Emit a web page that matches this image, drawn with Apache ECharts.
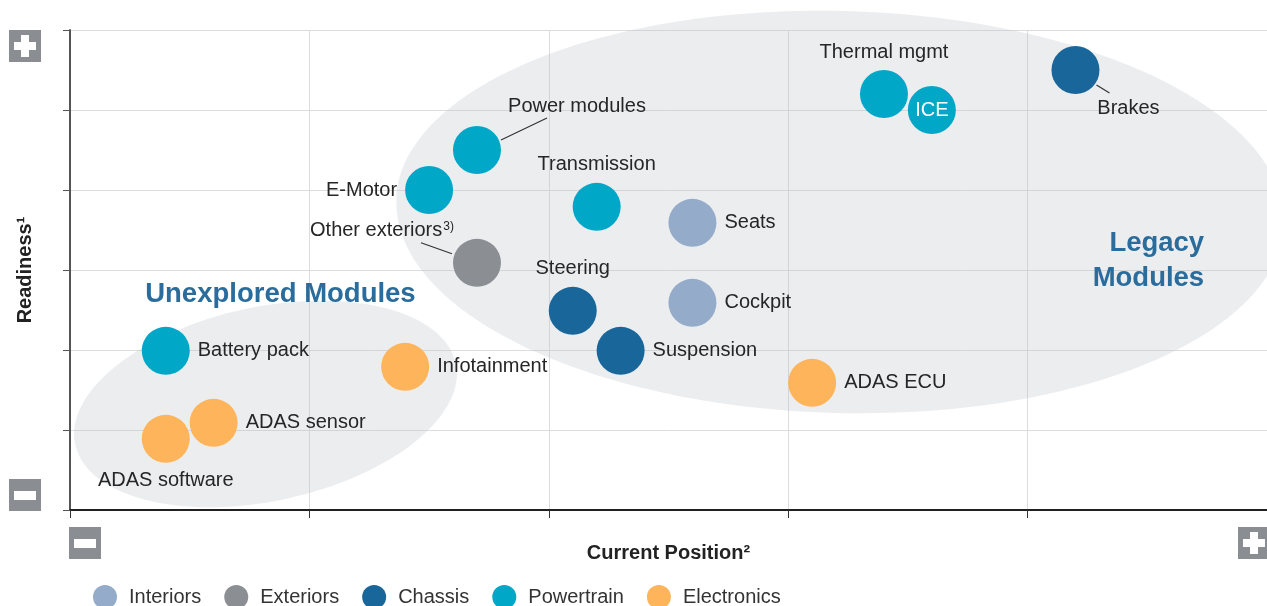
<!DOCTYPE html>
<html>
<head>
<meta charset="utf-8">
<script src="https://cdn.jsdelivr.net/npm/echarts@6/dist/echarts.min.js"></script>
<style>
  html, body { margin: 0; padding: 0; background: #fff; }
  #chart_box { width: 1267px; height: 606px; }
</style>
</head>
<body>
<div id="chart_box"></div>
<script>
// categories (legend order)
var categories = ["Interiors", "Exteriors", "Chassis", "Powertrain", "Electronics"];

// modules per category: name, current position (x), readiness (y)
var interiorsNames = ["Seats", "Cockpit"];
var interiorsX = [2.6, 2.6];
var interiorsY = [3.59, 2.59];

var exteriorsNames = ["Other exteriors"];
var exteriorsX = [1.7];
var exteriorsY = [3.09];

var chassisNames = ["Steering", "Suspension", "Brakes"];
var chassisX = [2.1, 2.3, 4.2];
var chassisY = [2.49, 1.99, 5.5];

var powertrainNames = ["Battery pack", "E-Motor", "Power modules", "Transmission", "Thermal mgmt", "ICE"];
var powertrainX = [0.4, 1.5, 1.7, 2.2, 3.4, 3.6];
var powertrainY = [1.99, 4.0, 4.5, 3.79, 5.2, 5.0];

var electronicsNames = ["ADAS sensor", "ADAS software", "Infotainment", "ADAS ECU"];
var electronicsX = [0.6, 0.4, 1.4, 3.1];
var electronicsY = [1.09, 0.89, 1.79, 1.59];

// shaded zones: centre, radii (in axis units), tilt in degrees
var zoneCenterX = [0.817, 3.217];
var zoneCenterY = [1.325, 3.725];
var zoneRadiusX = [0.8125, 1.854];
var zoneRadiusY = [1.2125, 2.5125];
var zoneTilt = [12, -1.5];

// zone titles
var zoneTitles = ["Unexplored Modules", "Legacy\nModules"];
var zoneTitleX = [0.879, 4.7375];
var zoneTitleY = [2.70, 3.11];

// axis extents
var xMin = 0, xMax = 5, yMin = 0, yMax = 6;

var colors = ["#94abc9", "#8b8f94", "#19679a", "#00a7c6", "#fdb45a"];
var font = "Liberation Sans, Arial, sans-serif";
var textColor = "#262626";

// where each label sits around its bubble
var labelPlacement = {
  "Seats": { position: "right" },
  "Cockpit": { position: "right" },
  "Other exteriors": { position: "inside", offset: [-95, -32], formatter: "{b}{sup|3)}" },
  "Steering": { position: "top" },
  "Suspension": { position: "right" },
  "Brakes": { position: "inside", offset: [53, 38] },
  "Battery pack": { position: "right" },
  "E-Motor": { position: "left" },
  "Power modules": { position: "inside", offset: [100, -44] },
  "Transmission": { position: "top" },
  "Thermal mgmt": { position: "top" },
  "ICE": { position: "inside", color: "#fff" },
  "ADAS sensor": { position: "right" },
  "ADAS software": { position: "bottom" },
  "Infotainment": { position: "right" },
  "ADAS ECU": { position: "right" }
};
// leader lines: pixel offsets from the bubble centre [x1, y1, x2, y2]
var leaderOffsets = {
  "Power modules": [24, -10, 70, -32],
  "Other exteriors": [-25, -9, -56, -20],
  "Brakes": [21, 15, 34, 23]
};

function buildPoints(names, xs, ys) {
  return names.map(function (n, i) {
    var p = labelPlacement[n];
    return {
      name: n,
      value: [xs[i], ys[i]],
      label: {
        show: true,
        position: p.position,
        distance: 8,
        offset: p.offset || [0, 0],
        color: p.color || textColor,
        fontSize: 20,
        fontFamily: font,
        formatter: p.formatter || "{b}",
        rich: { sup: { fontSize: 12, fontFamily: font, color: textColor, padding: [0, 0, 9, 1] } }
      }
    };
  });
}

var groups = [
  buildPoints(interiorsNames, interiorsX, interiorsY),
  buildPoints(exteriorsNames, exteriorsX, exteriorsY),
  buildPoints(chassisNames, chassisX, chassisY),
  buildPoints(powertrainNames, powertrainX, powertrainY),
  buildPoints(electronicsNames, electronicsX, electronicsY)
];

// leader line anchors come from the same module arrays
var leaderData = [];
[[interiorsNames, interiorsX, interiorsY], [exteriorsNames, exteriorsX, exteriorsY],
 [chassisNames, chassisX, chassisY], [powertrainNames, powertrainX, powertrainY],
 [electronicsNames, electronicsX, electronicsY]].forEach(function (g) {
  g[0].forEach(function (n, i) {
    if (leaderOffsets[n]) leaderData.push({ name: n, value: [g[1][i], g[2][i]] });
  });
});

var zoneData = zoneCenterX.map(function (v, i) {
  return [v, zoneCenterY[i], zoneRadiusX[i], zoneRadiusY[i], zoneTilt[i]];
});
var titleData = zoneTitleX.map(function (v, i) {
  return [v, zoneTitleY[i], i];
});

function box(x, y, plus) {
  var els = [
    { type: "rect", shape: { x: x, y: y, width: 32, height: 32 }, style: { fill: "#8a8d91" } }
  ];
  if (plus) {
    els.push({ type: "rect", shape: { x: x + 5, y: y + 12, width: 22, height: 8 }, style: { fill: "#fff" } });
    els.push({ type: "rect", shape: { x: x + 12, y: y + 5, width: 8, height: 22 }, style: { fill: "#fff" } });
  } else {
    els.push({ type: "rect", shape: { x: x + 5, y: y + 12, width: 22, height: 9 }, style: { fill: "#fff" } });
  }
  return els;
}

var myecharts = echarts.init(document.getElementById("chart_box"));

var series = [
  {
    name: "zones",
    type: "custom",
    z: 1,
    clip: false,
    silent: true,
    data: zoneData,
    renderItem: function (params, api) {
      var c = api.coord([api.value(0), api.value(1)]);
      var s = api.size([api.value(2), api.value(3)]);
      return {
        type: "ellipse",
        x: c[0],
        y: c[1],
        rotation: api.value(4) * Math.PI / 180,
        shape: { cx: 0, cy: 0, rx: s[0], ry: s[1] },
        style: { fill: "rgba(190,195,202,0.3)" }
      };
    }
  },
  {
    name: "zone titles",
    type: "custom",
    z: 3,
    clip: false,
    silent: true,
    data: titleData,
    renderItem: function (params, api) {
      var c = api.coord([api.value(0), api.value(1)]);
      var i = api.value(2);
      return {
        type: "text",
        x: c[0],
        y: c[1],
        style: {
          text: zoneTitles[i],
          fill: "#2a6c9c",
          font: "bold 27.5px " + font,
          align: i === 0 ? "center" : "right",
          verticalAlign: "middle",
          lineHeight: 35
        }
      };
    }
  },
  {
    name: "leaders",
    type: "custom",
    z: 3,
    clip: false,
    silent: true,
    data: leaderData,
    renderItem: function (params, api) {
      var c = api.coord([api.value(0), api.value(1)]);
      var o = leaderOffsets[leaderData[params.dataIndex].name];
      return {
        type: "line",
        shape: { x1: c[0] + o[0], y1: c[1] + o[1], x2: c[0] + o[2], y2: c[1] + o[3] },
        style: { stroke: "#333", lineWidth: 1.2 }
      };
    }
  }
];

categories.forEach(function (c, i) {
  series.push({
    name: c,
    type: "scatter",
    z: 4,
    symbol: "circle",
    symbolSize: 48,
    itemStyle: { color: colors[i], opacity: 1 },
    data: groups[i]
  });
});

var option = {
  animation: false,
  color: colors,
  grid: { left: 70, top: 30, width: 1200, height: 480 },
  legend: {
    data: categories,
    left: 88,
    top: 580,
    icon: "circle",
    itemWidth: 38,
    itemHeight: 24,
    itemGap: 23,
    textStyle: { fontSize: 20, fontFamily: font, color: "#333" }
  },
  xAxis: [
    {
      type: "value",
      min: xMin,
      max: xMax,
      interval: 1,
      name: "Current Position²",
      nameLocation: "middle",
      nameGap: 33,
      nameTextStyle: { fontSize: 20, fontWeight: "bold", fontFamily: font, color: "#222" },
      axisLine: { show: true, onZero: false, lineStyle: { color: "#555", width: 2 } },
      axisTick: { show: true, length: 8, lineStyle: { color: "#333" } },
      axisLabel: { show: false },
      splitLine: { show: true, lineStyle: { color: "#dcdcdc" } }
    },
    {
      type: "value",
      position: "top",
      min: xMin,
      max: xMax,
      axisLine: { show: true, lineStyle: { color: "#111", width: 1.5 } },
      axisTick: { show: false },
      axisLabel: { show: false },
      splitLine: { show: false }
    }
  ],
  yAxis: {
    type: "value",
    min: yMin,
    max: yMax,
    interval: 1,
    name: "Readiness¹",
    nameLocation: "middle",
    nameRotate: 90,
    nameGap: 35,
    nameTextStyle: { fontSize: 20, fontWeight: "bold", fontFamily: font, color: "#222" },
    axisLine: { show: true, onZero: false, lineStyle: { color: "#555", width: 2 } },
    axisTick: { show: true, length: 7, lineStyle: { color: "#555" } },
    axisLabel: { show: false },
    splitLine: { show: true, lineStyle: { color: "#dcdcdc" } }
  },
  graphic: [].concat(box(9, 30, true), box(9, 479, false), box(69, 527, false), box(1238, 527, true)),
  series: series
};
myecharts.setOption(option);
</script>
</body>
</html>
